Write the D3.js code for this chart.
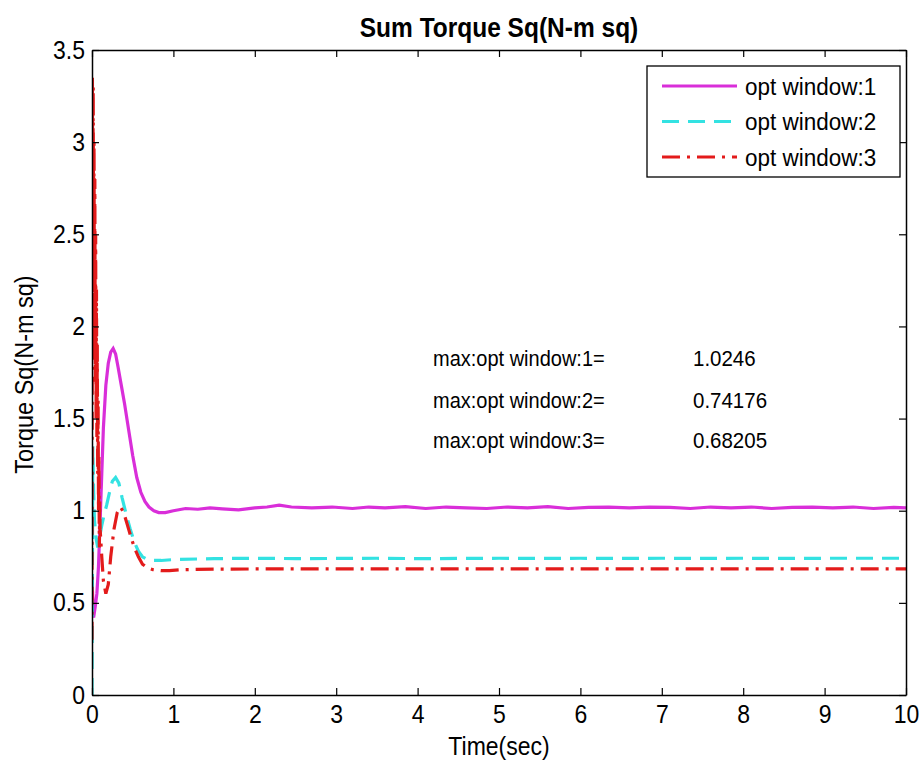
<!DOCTYPE html>
<html>
<head>
<meta charset="utf-8">
<script src="https://cdn.jsdelivr.net/npm/d3@7"></script>
<style>
  html, body { margin: 0; padding: 0; background: #fff; }
  svg { display: block; }
  text { font-family: "Liberation Sans", Arial, Helvetica, sans-serif; fill: #000; }
</style>
</head>
<body>
<svg id="chart" width="919" height="761"></svg>
<script>
// ---------------- data ----------------
const titleText = "Sum Torque Sq(N-m sq)";
const xLabel = "Time(sec)";
const yLabel = "Torque Sq(N-m sq)";
const xTicks = [0, 1, 2, 3, 4, 5, 6, 7, 8, 9, 10];
const yTicks = [0, 0.5, 1, 1.5, 2, 2.5, 3, 3.5];
const seriesNames = ["opt window:1", "opt window:2", "opt window:3"];
const maxLabels = ["max:opt window:1=", "max:opt window:2=", "max:opt window:3="];
const maxValues = ["1.0246", "0.74176", "0.68205"];

// opt window:1 (magenta, solid)
const time1 = [0, 0.02, 0.04, 0.06, 0.08, 0.10, 0.12, 0.14, 0.17, 0.20, 0.23, 0.26, 0.29, 0.32, 0.36, 0.40, 0.45, 0.50, 0.55, 0.60, 0.65, 0.70, 0.76, 0.82, 0.90, 1.0,
  1.15, 1.3, 1.45, 1.6, 1.8, 2.0, 2.15, 2.3, 2.45, 2.7, 2.95, 3.2, 3.4, 3.6, 3.85, 4.1, 4.35, 4.6, 4.85, 5.1, 5.35, 5.6, 5.85, 6.1, 6.35, 6.6, 6.85,
  7.1, 7.35, 7.6, 7.85, 8.1, 8.35, 8.6, 8.85, 9.1, 9.35, 9.6, 9.85, 10.0];
const value1 = [0.62, 0.42, 0.48, 0.55, 0.70, 0.95, 1.20, 1.45, 1.68, 1.80, 1.86, 1.88, 1.85, 1.78, 1.68, 1.58, 1.44, 1.30, 1.18, 1.10, 1.05, 1.02, 1.00, 0.99, 0.99, 1.00,
  1.012, 1.008, 1.015, 1.01, 1.005, 1.015, 1.02, 1.03, 1.02, 1.015, 1.02, 1.012, 1.02, 1.015, 1.022, 1.012, 1.02, 1.015, 1.012, 1.02, 1.015, 1.022, 1.012, 1.018, 1.02, 1.015, 1.02,
  1.018, 1.012, 1.02, 1.015, 1.02, 1.012, 1.018, 1.02, 1.015, 1.02, 1.012, 1.018, 1.015];

// opt window:2 (cyan, dashed)
const time2 = [0, 0.01, 0.02, 0.03, 0.05, 0.07, 0.09, 0.12, 0.15, 0.18, 0.21, 0.25, 0.29, 0.33, 0.37, 0.42, 0.47, 0.52, 0.57, 0.62, 0.68, 0.75, 0.85, 1.0,
  1.5, 2.0, 2.5, 3.0, 3.5, 4.0, 4.5, 5.0, 5.5, 6.0, 6.5, 7.0, 7.5, 8.0, 8.5, 9.0, 9.5, 10.0];
const value2 = [0.0, 1.35, 1.10, 0.95, 0.85, 0.80, 0.85, 0.92, 0.98, 1.03, 1.09, 1.16, 1.18, 1.15, 1.07, 0.98, 0.90, 0.83, 0.78, 0.75, 0.735, 0.73, 0.73, 0.735,
  0.74, 0.742, 0.74, 0.741, 0.742, 0.74, 0.741, 0.742, 0.741, 0.742, 0.741, 0.742, 0.741, 0.742, 0.741, 0.742, 0.742, 0.742];

// opt window:3 (red, dash-dot)
const time3 = [0, 0.005, 0.01, 0.015, 0.02, 0.025, 0.03, 0.035, 0.04, 0.045, 0.05, 0.055, 0.06, 0.065, 0.07, 0.075, 0.08, 0.085, 0.09, 0.095, 0.10,
  0.12, 0.14, 0.17, 0.20, 0.23, 0.27, 0.31, 0.35, 0.39, 0.43, 0.47, 0.52, 0.57, 0.62, 0.68, 0.75, 0.85, 0.95, 1.1,
  1.5, 2.0, 2.5, 3.0, 3.5, 4.0, 4.5, 5.0, 5.5, 6.0, 6.5, 7.0, 7.5, 8.0, 8.5, 9.0, 9.5, 10.0];
const value3 = [0.30, 3.35, 2.60, 3.30, 2.20, 3.00, 1.90, 2.80, 1.70, 2.50, 1.50, 2.20, 1.40, 1.90, 1.20, 1.60, 1.00, 1.30, 0.80, 1.05, 0.90,
  0.75, 0.62, 0.55, 0.60, 0.75, 0.90, 0.99, 1.02, 0.99, 0.93, 0.87, 0.80, 0.75, 0.71, 0.69, 0.68, 0.675, 0.675, 0.68,
  0.683, 0.684, 0.684, 0.684, 0.684, 0.684, 0.684, 0.684, 0.684, 0.684, 0.684, 0.684, 0.684, 0.684, 0.684, 0.684, 0.684, 0.684];

// ---------------- chart ----------------
const svg = d3.select("#chart");
const M = { left: 92, right: 906, top: 50, bottom: 695 };
const x = d3.scaleLinear().domain([0, 10]).range([M.left, M.right]);
const y = d3.scaleLinear().domain([0, 3.5]).range([M.bottom, M.top]);

const colors = ["#d92ed9", "#33e2e2", "#e31b1b"];
const dashes = [null, "17 9", "18 7 3 7"];
const series = [
  { t: time1, v: value1 },
  { t: time2, v: value2 },
  { t: time3, v: value3 }
];
const SY = 1.1; // vertical stretch of glyphs

svg.append("rect").attr("x", M.left).attr("y", M.top).attr("width", M.right - M.left).attr("height", M.bottom - M.top).attr("fill", "#fff");

const line = d3.line().x(d => x(d[0])).y(d => y(d[1]));
svg.append("clipPath").attr("id", "clip").append("rect")
  .attr("x", M.left).attr("y", M.top).attr("width", M.right - M.left).attr("height", M.bottom - M.top);
series.forEach((s, i) => {
  const pts = s.t.map((t, k) => [t, s.v[k]]);
  svg.append("path")
    .attr("d", line(pts))
    .attr("fill", "none")
    .attr("stroke", colors[i])
    .attr("stroke-width", 3.2)
    .attr("stroke-dasharray", dashes[i])
    .attr("clip-path", "url(#clip)");
});

const tickLen = 7;
const axB = svg.append("g").attr("transform", `translate(0,${M.bottom})`)
  .call(d3.axisBottom(x).tickValues(xTicks).tickSizeInner(-tickLen).tickSizeOuter(0).tickPadding(9).tickFormat(d3.format("d")));
const axT = svg.append("g").attr("transform", `translate(0,${M.top})`)
  .call(d3.axisTop(x).tickValues(xTicks).tickSizeInner(-tickLen).tickSizeOuter(0).tickFormat(""));
const axL = svg.append("g").attr("transform", `translate(${M.left},0)`)
  .call(d3.axisLeft(y).tickValues(yTicks).tickSizeInner(-tickLen).tickSizeOuter(0).tickPadding(7).tickFormat(d => d3.format("")(d)));
const axR = svg.append("g").attr("transform", `translate(${M.right},0)`)
  .call(d3.axisRight(y).tickValues(yTicks).tickSizeInner(-tickLen).tickSizeOuter(0).tickFormat(""));
[axB, axT, axL, axR].forEach(g => {
  g.selectAll("path.domain").attr("stroke", "#000").attr("stroke-width", 1.5);
  g.selectAll(".tick line").attr("stroke", "#000").attr("stroke-width", 1.2);
  g.selectAll(".tick text").attr("font-size", 23).attr("fill", "#000")
    .attr("transform", `scale(1,${SY})`)
    .style("font-family", '"Liberation Sans", Arial, sans-serif');
});

function addText(str, tx, ty, size, opts = {}) {
  const g = svg.append("g").attr("transform", `translate(${tx},${ty}) rotate(${opts.rotate || 0}) scale(1,${SY})`);
  return g.append("text")
    .attr("text-anchor", opts.anchor || "start")
    .attr("font-size", size)
    .attr("font-weight", opts.weight || "normal")
    .attr("dy", opts.dy || 0)
    .text(str);
}

addText(titleText, (M.left + M.right) / 2, 37, 24.5, { anchor: "middle", weight: "bold" });
addText(xLabel, (M.left + M.right) / 2, 755, 23, { anchor: "middle" });
addText(yLabel, 33, (M.top + M.bottom) / 2 + 2, 23.5, { anchor: "middle", rotate: -90 });

const rowY = [358, 400, 440];
maxLabels.forEach((lab, i) => {
  addText(lab, 433, rowY[i], 20, { dy: "0.35em" });
  addText(maxValues[i], 693, rowY[i], 20.5, { dy: "0.35em" });
});

const lg = svg.append("g");
lg.append("rect").attr("x", 647).attr("y", 66).attr("width", 253).attr("height", 111)
  .attr("fill", "#fff").attr("stroke", "#000").attr("stroke-width", 1.3);
seriesNames.forEach((name, i) => {
  const ly = 86 + i * 35.5;
  lg.append("line").attr("x1", 662).attr("x2", 737).attr("y1", ly).attr("y2", ly)
    .attr("stroke", colors[i]).attr("stroke-width", 3.2).attr("stroke-dasharray", dashes[i]);
  addText(name, 745, ly, 22.5, { dy: "0.35em" });
});
</script>
</body>
</html>
